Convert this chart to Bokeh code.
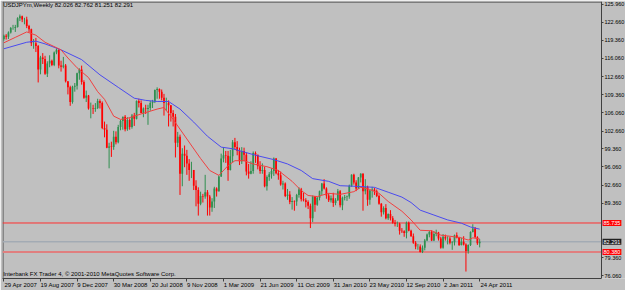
from bokeh.plotting import figure
from bokeh.models import (ColumnDataSource, FixedTicker, Label, Range1d, NumeralTickFormatter)
from bokeh.embed import file_html
from bokeh.resources import INLINE

# ---- data (USDJPYm weekly, 29 Apr 2007 .. 24 Apr 2011) ----
opens = [
    119.6, 120.2, 120.0, 120.8, 121.6, 121.6, 121.8, 123.4, 123.8, 123.2, 123.2, 122.0, 121.4, 118.8, 118.8, 118.3,
    114.0, 116.2, 115.9, 113.2, 115.1, 115.6, 114.8, 117.1, 117.6, 114.7, 114.5, 114.7, 111.8, 110.7, 108.0, 110.8,
    111.0, 113.3, 114.0, 111.7,
    108.8, 109.2, 106.8, 106.8, 106.7, 106.9, 108.2, 107.8, 103.2, 102.9, 99.6, 99.8, 99.7, 101.6, 100.6, 103.4,
    104.5, 105.3, 103.0, 104.7, 103.4, 105.5, 104.9, 108.2, 107.8, 106.0, 106.8, 106.7, 106.9, 107.8, 108.1, 110.2,
    110.4, 109.9, 108.8, 107.8, 107.8, 107.4, 106.0, 105.3, 100.5, 101.6, 94.8, 98.5, 98.1, 96.7, 95.5, 95.5,
    92.6, 91.8, 89.3, 90.7,
    90.6, 91.4, 90.6, 88.6, 89.7, 92.1, 91.6, 94.3, 97.6, 98.2, 98.1, 95.5, 98.0, 100.6, 99.7, 99.0,
    97.1, 99.0, 98.3, 95.2, 94.8, 95.3, 98.6, 98.3, 96.2, 95.3, 95.5, 92.5, 94.2, 94.7, 95.3, 97.6,
    94.9, 94.5, 92.8, 93.0, 90.7, 91.0, 89.6, 89.8, 89.7, 90.9, 91.9, 90.1, 89.9, 89.6, 88.9, 86.6,
    90.6, 89.1, 90.4, 91.6,
    93.0, 92.1, 90.8, 89.9, 90.3, 89.4, 89.9, 91.6, 89.0, 90.4, 90.5, 90.6, 92.6, 94.6, 93.2, 92.1,
    94.1, 94.8, 91.6, 92.4, 90.0, 91.7, 91.9, 91.6, 90.7, 89.3, 87.7, 88.5, 86.6, 87.4, 86.6, 85.8,
    85.6, 85.6, 84.3, 84.2, 83.9, 85.8, 84.3, 83.3, 82.1, 81.4, 81.4, 80.4, 81.2, 82.5, 83.6, 84.1,
    82.5, 83.7, 84.0, 82.9,
    81.2, 83.2, 82.9, 82.9, 82.1, 82.2, 83.5, 83.0, 81.7, 82.3, 81.8, 80.6, 81.7, 84.1, 84.7, 83.1,
    82.026,
]
highs = [
    120.4, 120.5, 121.0, 121.8, 122.2, 122.2, 123.6, 124.1, 123.9, 123.5, 123.7, 122.2, 121.5, 119.6, 119.8, 118.5,
    116.5, 117.0, 116.5, 115.5, 116.6, 115.8, 117.3, 117.9, 117.7, 115.6, 116.3, 115.0, 111.8, 111.0, 111.0, 111.5,
    113.4, 114.2, 114.7, 112.0,
    110.1, 109.3, 107.9, 107.5, 107.8, 108.6, 108.5, 108.1, 104.4, 103.9, 100.5, 100.7, 102.7, 102.6, 103.8, 104.7,
    105.3, 105.6, 105.2, 105.0, 105.8, 106.0, 108.3, 108.6, 108.3, 107.0, 107.5, 107.5, 108.2, 108.4, 110.3, 110.7,
    110.5, 110.3, 109.5, 108.8, 108.3, 107.4, 106.5, 105.8, 102.5, 102.0, 99.5, 100.0, 99.2, 97.5, 97.0, 95.5,
    93.6, 92.3, 91.5, 91.1,
    94.6, 91.8, 90.9, 90.3, 92.4, 92.3, 94.5, 98.5, 99.7, 99.0, 99.0, 99.2, 101.0, 101.4, 100.8, 99.6,
    99.7, 99.6, 98.7, 96.6, 97.1, 98.9, 98.9, 98.3, 97.1, 96.7, 96.1, 94.5, 95.1, 95.8, 97.8, 97.7,
    95.5, 95.2, 93.5, 93.2, 92.0, 91.6, 90.5, 89.9, 91.1, 92.3, 92.2, 91.3, 90.3, 89.9, 89.3, 90.8,
    90.7, 90.5, 91.7, 93.1,
    93.8, 92.3, 91.2, 90.8, 91.3, 90.3, 92.0, 91.8, 90.6, 90.9, 90.8, 92.8, 94.7, 94.8, 93.6, 94.2,
    94.9, 94.9, 93.8, 92.6, 91.8, 92.4, 92.2, 91.9, 91.0, 89.4, 88.8, 89.2, 87.5, 88.1, 87.0, 86.3,
    86.0, 85.8, 84.8, 84.4, 86.0, 86.0, 84.5, 83.8, 82.4, 81.9, 81.8, 81.6, 82.8, 83.8, 84.3, 84.4,
    84.2, 84.5, 84.1, 83.2,
    83.7, 83.6, 83.3, 83.2, 82.4, 83.6, 84.0, 83.2, 83.0, 83.3, 82.0, 81.8, 84.2, 85.5, 85.0, 83.3,
    82.762,
]
lows = [
    119.3, 119.5, 119.6, 120.6, 121.3, 120.9, 121.7, 122.9, 122.7, 122.3, 121.6, 120.8, 118.3, 117.8, 117.2, 111.6,
    113.1, 115.0, 113.0, 112.6, 114.4, 114.6, 114.6, 116.8, 114.2, 113.6, 114.2, 111.6, 109.4, 107.3, 107.7, 109.9,
    110.3, 112.1, 111.2, 108.6,
    108.0, 106.6, 105.0, 105.8, 106.2, 106.7, 106.8, 103.0, 101.5, 99.5, 95.8, 97.9, 99.2, 100.2, 100.4, 102.8,
    102.9, 102.6, 102.7, 102.9, 103.1, 103.6, 104.8, 107.0, 105.9, 105.2, 105.8, 103.8, 106.4, 106.9, 107.8, 108.6,
    108.6, 108.3, 105.5, 106.4, 103.5, 104.4, 103.5, 97.8, 99.7, 90.9, 92.5, 96.0, 94.6, 93.5, 94.0, 91.8,
    88.8, 87.1, 89.0, 89.5,
    90.2, 87.1, 87.1, 87.8, 88.5, 90.6, 91.5, 94.2, 96.9, 96.8, 93.5, 95.4, 96.9, 99.3, 98.2, 96.4,
    96.6, 97.1, 94.5, 93.9, 94.7, 94.8, 96.8, 95.6, 94.8, 94.8, 92.3, 91.7, 93.5, 93.9, 94.4, 94.7,
    93.7, 92.6, 91.9, 90.5, 90.0, 89.2, 88.2, 88.0, 88.9, 90.4, 89.7, 89.7, 88.6, 88.3, 84.8, 85.9,
    87.8, 88.9, 89.9, 90.9,
    91.9, 90.2, 89.6, 89.5, 88.7, 89.0, 89.8, 88.6, 88.1, 89.9, 89.8, 90.2, 92.4, 92.8, 91.6, 92.0,
    93.2, 88.0, 91.0, 88.9, 89.1, 90.4, 90.9, 90.5, 89.1, 86.9, 87.3, 86.4, 86.3, 86.2, 85.6, 85.1,
    85.0, 83.6, 83.9, 83.2, 82.9, 84.2, 83.2, 81.9, 80.9, 80.8, 80.3, 80.2, 80.7, 82.4, 83.1, 82.4,
    82.4, 83.3, 82.5, 81.0,
    81.0, 82.5, 81.8, 81.8, 80.8, 81.6, 82.9, 81.5, 81.6, 81.6, 76.8, 80.1, 81.5, 84.0, 83.0, 81.7,
    81.251,
]
closes = [
    120.2, 120.0, 120.8, 121.6, 121.6, 121.8, 123.4, 123.8, 123.2, 123.2, 122.0, 121.4, 118.8, 118.8, 118.3, 114.0,
    116.2, 115.9, 113.2, 115.1, 115.6, 114.8, 117.1, 117.6, 114.7, 114.5, 114.7, 111.8, 110.7, 108.0, 110.8, 111.0,
    113.3, 114.0, 111.7, 108.8,
    109.2, 106.8, 106.8, 106.7, 106.9, 108.2, 107.8, 103.2, 102.9, 99.6, 99.8, 99.7, 101.6, 100.6, 103.4, 104.5,
    105.3, 103.0, 104.7, 103.4, 105.5, 104.9, 108.2, 107.8, 106.0, 106.8, 106.7, 106.9, 107.8, 108.1, 110.2, 110.4,
    109.9, 108.8, 107.8, 107.8, 107.4, 106.0, 105.3, 100.5, 101.6, 94.8, 98.5, 98.1, 96.7, 95.5, 95.5, 92.6,
    91.8, 89.3, 90.7, 90.6,
    91.4, 90.6, 88.6, 89.7, 92.1, 91.6, 94.3, 97.6, 98.2, 98.1, 95.5, 98.0, 100.6, 99.7, 99.0, 97.1,
    99.0, 98.3, 95.2, 94.8, 95.3, 98.6, 98.3, 96.2, 95.3, 95.5, 92.5, 94.2, 94.7, 95.3, 97.6, 94.9,
    94.5, 92.8, 93.0, 90.7, 91.0, 89.6, 89.8, 89.7, 90.9, 91.9, 90.1, 89.9, 89.6, 88.9, 86.6, 90.6,
    89.1, 90.4, 91.6, 93.0,
    92.1, 90.8, 89.9, 90.3, 89.4, 89.9, 91.6, 89.0, 90.4, 90.5, 90.6, 92.6, 94.6, 93.2, 92.1, 94.1,
    94.8, 91.6, 92.4, 90.0, 91.7, 91.9, 91.6, 90.7, 89.3, 87.7, 88.5, 86.6, 87.4, 86.6, 85.8, 85.6,
    85.6, 84.3, 84.2, 83.9, 85.8, 84.3, 83.3, 82.1, 81.4, 81.4, 80.4, 81.2, 82.5, 83.6, 84.1, 82.5,
    83.7, 84.0, 82.9, 81.2,
    83.2, 82.9, 82.9, 82.1, 82.2, 83.5, 83.0, 81.7, 82.3, 81.8, 80.6, 81.7, 84.1, 84.7, 83.1, 82.03,
    82.291,
]

# moving averages (bar index, price)
ma_fast_bar = [0, 5, 10, 14, 18, 25, 28, 32, 37, 41, 44, 48, 51, 54, 60, 67, 70, 74, 80, 86, 90, 94, 98, 101,
               105, 109, 115, 120, 126, 130, 133, 137, 142, 147, 153, 156, 160, 164, 168, 174, 178, 182, 187,
               191, 195, 200, 203, 205, 208]
ma_fast_val = [118.9, 119.9, 120.9, 120.3, 119.0, 117.6, 116.1, 114.3, 112.5, 109.9, 108.5, 105.4, 104.8, 105.0,
               105.8, 106.7, 107.0, 104.8, 101.2, 97.6, 95.4, 94.5, 96.3, 97.2, 97.2, 96.6, 96.1, 95.4, 93.4,
               91.7, 90.8, 90.6, 91.2, 91.0, 91.5, 92.3, 91.9, 91.2, 89.7, 87.9, 86.3, 84.4, 84.3, 83.5, 83.3,
               83.0, 82.6, 83.0, 82.8]
ma_slow_bar = [0, 10, 14, 18, 25, 34, 42, 50, 57, 62, 67, 72, 77, 83, 89, 95, 100, 105, 111, 118, 124, 130,
               135, 142, 147, 153, 162, 168, 174, 178, 182, 188, 194, 200, 204, 208]
ma_slow_val = [117.8, 119.0, 119.2, 118.7, 117.6, 115.8, 113.0, 110.7, 108.7, 108.3, 108.1, 108.1, 106.7, 104.3,
               101.7, 99.7, 99.4, 98.8, 98.1, 97.4, 96.6, 95.4, 93.9, 93.4, 92.6, 92.5, 92.3, 91.4, 90.5, 89.5,
               88.1, 87.2, 86.3, 85.7, 85.0, 84.6]

level_high = 85.735
level_low = 80.380
last_price = 82.291

date_ticks = [0, 16, 32, 48, 64, 80, 96, 112, 128, 144, 160, 176, 192, 208]
date_labels = ["29 Apr 2007", "19 Aug 2007", "9 Dec 2007", "30 Mar 2008", "20 Jul 2008", "9 Nov 2008",
               "1 Mar 2009", "21 Jun 2009", "11 Oct 2009", "31 Jan 2010", "23 May 2010", "12 Sep 2010",
               "2 Jan 2011", "24 Apr 2011"]
price_ticks = [125.96, 122.66, 119.36, 116.06, 112.66, 109.36, 106.06, 102.66, 99.36, 96.06, 92.66, 89.36,
               79.36, 76.06]

title_text = "USDJPYm,Weekly  82.026 82.762 81.251 82.291"
copyright_text = "Interbank FX Trader 4, \u00a9 2001-2010 MetaQuotes Software Corp."

# ---- styling / layout ----
BG = "#c0c0c0"
UP = "#2f8f4f"
DOWN = "#ff0000"
FRAME_C = "#404040"
FONT = "Liberation Sans"
FS = "6px"
FS_PRICE = "5.5px"
BAR_PX = 2.2875          # horizontal pixels per weekly bar in the reference
CHAR_PX = 2.9            # approx. width of one label character at FS
FRAME_W = 623            # frame runs from x=2 to the right edge; price scale sits inside it
X0 = -0.6
X_AXIS = X0 + 599 / BAR_PX   # data x of the price-scale line (pixel ~601)
Y_TOP, Y_BOT = 126.5, 75.52

n = len(closes)
idx = list(range(n))
colors = [UP if c >= o else DOWN for o, c in zip(opens, closes)]
tops = [max(o, c) for o, c in zip(opens, closes)]
bots = [min(o, c) for o, c in zip(opens, closes)]
src = ColumnDataSource(dict(x=idx, o=opens, h=highs, l=lows, c=closes, top=tops, bot=bots, col=colors))

p = figure(width=625, height=290, output_backend="svg", toolbar_location=None,
           x_range=Range1d(X0, X0 + FRAME_W / BAR_PX), y_range=Range1d(Y_BOT, Y_TOP),
           y_axis_location="right", title=None,
           min_border_left=2, min_border_right=0, min_border_top=1, min_border_bottom=0)
p.background_fill_color = BG
p.border_fill_color = BG
p.outline_line_color = None
p.grid.visible = False

def style_axis(ax):
    ax.axis_line_color = FRAME_C
    ax.major_tick_line_color = FRAME_C
    ax.minor_tick_line_color = None
    ax.major_tick_in = 0
    ax.major_tick_out = 3
    ax.major_label_text_font = FONT
    ax.major_label_text_font_size = FS
    ax.major_label_text_color = "#000000"
    ax.major_label_standoff = 1
    ax.axis_label = None
    ax.axis_label_standoff = 0

xa = p.xaxis[0]
ya = p.yaxis[0]
style_axis(xa)
style_axis(ya)

# date axis: tick marks at the bars (minor ticks), texts starting at their tick (MT4 style)
label_pos = [t + (len(s) * CHAR_PX / 2 + 1) / BAR_PX for t, s in zip(date_ticks, date_labels)]
xa.ticker = FixedTicker(ticks=label_pos, minor_ticks=date_ticks)
xa.major_label_overrides = {pos: s for pos, s in zip(label_pos, date_labels)}
xa.major_tick_line_color = None
xa.major_tick_out = 2
xa.major_label_standoff = 0
xa.minor_tick_line_color = FRAME_C
xa.minor_tick_in = 0
xa.minor_tick_out = 3
xa.bounds = (X0, X_AXIS)

# price scale drawn inside the frame area so that its texts fit on the canvas
ya.ticker = FixedTicker(ticks=price_ticks)
ya.formatter = NumeralTickFormatter(format="0.000")
ya.fixed_location = X_AXIS
ya.major_tick_out = 2
ya.major_label_text_font_size = FS_PRICE

# frame border (top, left)
p.segment(x0=[X0, X0 + 0.2], y0=[Y_TOP - 0.1, Y_TOP], x1=[X_AXIS, X0 + 0.2], y1=[Y_TOP - 0.1, Y_BOT],
          line_color=FRAME_C, line_width=1)

# horizontal levels up to the price scale
p.segment(x0=[X0] * 3, x1=[X_AXIS] * 3, y0=[last_price, level_high, level_low],
          y1=[last_price, level_high, level_low],
          line_color=["#a3abb4", "#ff3030", "#e07f7f"], line_width=[1.5, 1, 2])

# candles
p.segment(x0="x", y0="l", x1="x", y1="h", line_color="col", line_width=1, source=src)
p.vbar(x="x", top="top", bottom="bot", width=0.75, fill_color="col", line_color=None, source=src)

# moving averages
p.line(ma_slow_bar, ma_slow_val, line_color="#4a4aee", line_width=1)
p.line(ma_fast_bar, ma_fast_val, line_color="#f04040", line_width=1)

# texts
p.add_layout(Label(x=X0 + 0.3, y=Y_TOP - 0.05, text=title_text, text_font=FONT, text_font_size=FS,
                   text_color="#000000", text_baseline="top"))
p.add_layout(Label(x=X0 + 0.3, y=Y_BOT + 0.3, text=copyright_text, text_font=FONT, text_font_size=FS,
                   text_color="#000000", text_baseline="bottom"))

for val, txt, bg in [(level_high, "85.735", "#ff0000"), (last_price, "82.291", "#202020"),
                     (level_low, "80.380", "#ff0000")]:
    p.add_layout(Label(x=X_AXIS + 0.45, y=val, text=txt, text_font=FONT, text_font_size=FS_PRICE,
                       text_color="#ffffff", text_baseline="middle", background_fill_color=bg,
                       padding=1))

open("out.html", "w").write(file_html(p, INLINE))
